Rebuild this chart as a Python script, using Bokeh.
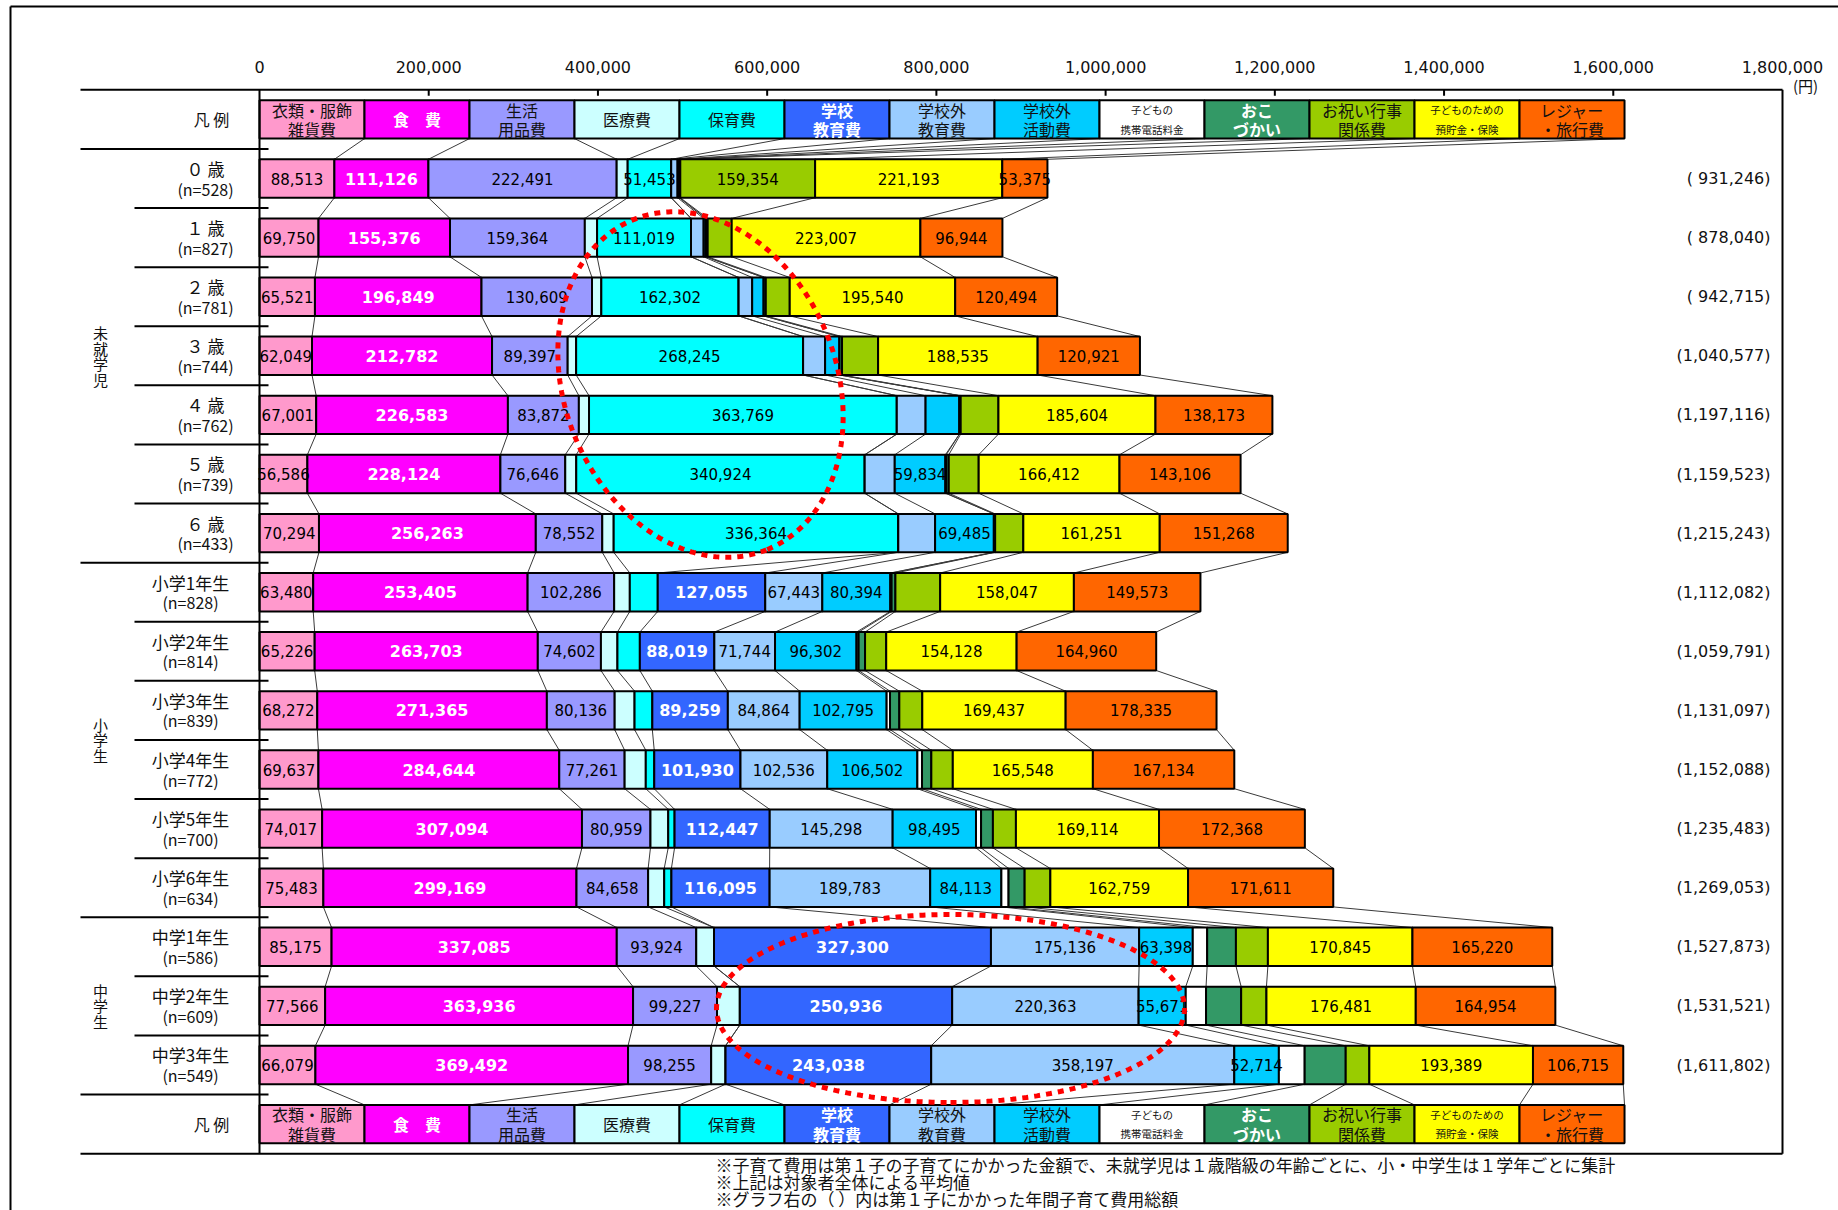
import numpy as np
from bokeh.plotting import figure
from bokeh.models import Range1d, ColumnDataSource
from bokeh.core.properties import value
from bokeh.embed import file_html
from bokeh.resources import INLINE

# ---------------------------------------------------------------- data
# Expense categories, as written in the legend boxes (one or two lines each)
CATEGORY_LINES = [
    ["衣類・服飾", "雑貨費"],
    ["食　費"],
    ["生活", "用品費"],
    ["医療費"],
    ["保育費"],
    ["学校", "教育費"],
    ["学校外", "教育費"],
    ["学校外", "活動費"],
    ["子どもの", "携帯電話料金"],
    ["おこ", "づかい"],
    ["お祝い行事", "関係費"],
    ["子どものための", "預貯金・保険"],
    ["レジャー", "・旅行費"],
]

ROW_NAMES = ["０ 歳", "１ 歳", "２ 歳", "３ 歳", "４ 歳", "５ 歳", "６ 歳",
             "小学1年生", "小学2年生", "小学3年生", "小学4年生", "小学5年生", "小学6年生",
             "中学1年生", "中学2年生", "中学3年生"]
ROW_N = [528, 827, 781, 744, 762, 739, 433, 828, 814, 839, 772, 700, 634, 586, 609, 549]

GROUP_NAMES = ["未就学児", "小学生", "中学生"]
GROUP_ROWS = [(0, 6), (7, 12), (13, 15)]

# Annual cost per category (yen), one value per age row
CLOTHING    = [88513, 69750, 65521, 62049, 67001, 56586, 70294, 63480, 65226, 68272, 69637, 74017, 75483, 85175, 77566, 66079]
FOOD        = [111126, 155376, 196849, 212782, 226583, 228124, 256263, 253405, 263703, 271365, 284644, 307094, 299169, 337085, 363936, 369492]
DAILY_GOODS = [222491, 159364, 130609, 89397, 83872, 76646, 78552, 102286, 74602, 80136, 77261, 80959, 84658, 93924, 99227, 98255]
MEDICAL     = [13000, 14500, 11000, 10000, 12000, 13000, 13500, 18500, 19500, 23500, 25000, 21000, 19000, 21000, 27000, 17000]
CHILDCARE   = [51453, 111019, 162302, 268245, 363769, 340924, 336364, 33000, 26500, 21000, 10000, 7500, 8500, 0, 0, 0]
SCHOOL      = [0, 0, 0, 0, 0, 0, 0, 127055, 88019, 89259, 101930, 112447, 116095, 327300, 250936, 243038]
EXTRA_EDU   = [7500, 14900, 16000, 26000, 34000, 35500, 43500, 67443, 71744, 84864, 102536, 145298, 189783, 175136, 220363, 358197]
EXTRA_ACT   = [2200, 2500, 13600, 17000, 40000, 59834, 69485, 80394, 96302, 102795, 106502, 98495, 84113, 63398, 55671, 52714]
PHONE       = [0, 0, 0, 0, 0, 1000, 0, 1500, 2500, 4000, 5500, 6000, 8500, 17000, 24000, 30500]
ALLOWANCE   = [1041, 2280, 2500, 3000, 1500, 3000, 1500, 4500, 7600, 11000, 11000, 14000, 19000, 34000, 41500, 48500]
CELEBRATION = [159354, 28400, 28300, 42648, 44614, 35391, 33266, 52899, 25007, 27134, 25396, 27191, 30382, 37790, 29887, 27923]
SAVINGS     = [221193, 223007, 195540, 188535, 185604, 166412, 161251, 158047, 154128, 169437, 165548, 169114, 162759, 170845, 176481, 193389]
LEISURE     = [53375, 96944, 120494, 120921, 138173, 143106, 151268, 149573, 164960, 178335, 167134, 172368, 171611, 165220, 164954, 106715]

SERIES = [CLOTHING, FOOD, DAILY_GOODS, MEDICAL, CHILDCARE, SCHOOL, EXTRA_EDU,
          EXTRA_ACT, PHONE, ALLOWANCE, CELEBRATION, SAVINGS, LEISURE]

# which segments carry a value label (one flag per category, per row)
LABELED = ["1110100000111"] + ["1110100000011"] * 4 + ["1110100100011"] * 2 + ["1110011100011"] * 9

TICKS = list(range(0, 1_800_001, 200_000))

FOOTNOTES = [
    "※子育て費用は第１子の子育てにかかった金額で、未就学児は１歳階級の年齢ごとに、小・中学生は１学年ごとに集計",
    "※上記は対象者全体による平均値",
    "※グラフ右の（ ）内は第１子にかかった年間子育て費用総額",
]

# ---------------------------------------------------------------- styles
COLORS = ["#FF99CC", "#FF00FF", "#9999FF", "#CCFFFF", "#00FFFF", "#3366FF", "#99CCFF",
          "#00CCFF", "#FFFFFF", "#339966", "#99CC00", "#FFFF00", "#FF6600"]
WHITE_TEXT = {1, 5, 9}          # categories whose legend text is white and bold
SMALL_LEGEND = {8, 11}          # categories with long legend texts
JP = value("Noto Sans CJK JP")
NUM = value("DejaVu Sans")
INK = "#111111"

# ---------------------------------------------------------------- geometry
W, H = 1838, 1210
X0_PX, X1_PX = 259, 1782            # screen x of 0 and of 1,800,000 yen
AXIS_MAX = 1_800_000
K = (X1_PX - X0_PX) / AXIS_MAX      # pixels per yen
ROW0_PY, ROW_STEP = 178, 59.1       # screen y of the first row, row pitch
BAR_H = 0.65
LEGEND_STEP = 124_100               # width of one legend box (yen units)


def dx(px):
    return (px - X0_PX) / K


def dy(py):
    return (py - ROW0_PY) / ROW_STEP


p = figure(width=W, height=H, x_range=Range1d(dx(0), dx(W)), y_range=Range1d(dy(H), dy(0)),
           output_backend="svg", toolbar_location=None, min_border=0,
           x_axis_location=None, y_axis_location=None, outline_line_color=None,
           background_fill_color="white", border_fill_color="white")
p.xgrid.visible = False
p.ygrid.visible = False

vals = np.array(SERIES, dtype=float)
n_cat, n_rows = vals.shape
right = vals.cumsum(axis=0)
left = right - vals
leg_left = np.arange(n_cat) * LEGEND_STEP
leg_right = leg_left + LEGEND_STEP
LEGEND_ROWS = [-1, n_rows]

# ---- series lines joining the segment ends of consecutive bars
ends = [leg_right] + [right[:, r] for r in range(n_rows)] + [leg_right]
ys = [-1] + list(range(n_rows)) + [n_rows]
sx0, sy0, sx1, sy1 = [], [], [], []
for a in range(len(ys) - 1):
    for k in range(n_cat):
        sx0.append(ends[a][k]); sy0.append(ys[a] + BAR_H / 2)
        sx1.append(ends[a + 1][k]); sy1.append(ys[a + 1] - BAR_H / 2)
p.segment(sx0, sy0, sx1, sy1, line_color="#3a3a3a", line_width=1)

# ---- stacked bars and the two legend strips
by, bl, br, bc = [], [], [], []
for r in range(n_rows):
    for k in range(n_cat):
        by.append(r); bl.append(left[k, r]); br.append(right[k, r]); bc.append(COLORS[k])
for ly in LEGEND_ROWS:
    for k in range(n_cat):
        by.append(ly); bl.append(leg_left[k]); br.append(leg_right[k]); bc.append(COLORS[k])
p.hbar(y="y", left="l", right="r", height=BAR_H, fill_color="c", line_color="black",
       line_width=2, source=ColumnDataSource(dict(y=by, l=bl, r=br, c=bc)))

# ---- value labels on the segments
dark = dict(x=[], y=[], t=[])
light = dict(x=[], y=[], t=[])
for r in range(n_rows):
    for k in range(n_cat):
        if LABELED[r][k] != "1":
            continue
        v = int(vals[k, r])
        d = light if k in (1, 5) else dark
        d["x"].append(left[k, r] + v / 2); d["y"].append(r); d["t"].append(f"{v:,}")
p.text("x", "y", "t", source=ColumnDataSource(dark), text_font=NUM, text_font_size="15px",
       text_color="black", text_align="center", text_baseline="middle")
p.text("x", "y", "t", source=ColumnDataSource(light), text_font=NUM, text_font_size="16px",
       text_font_style="bold", text_color="white", text_align="center", text_baseline="middle")

# ---- legend box texts
for ly in LEGEND_ROWS:
    for k, lines in enumerate(CATEGORY_LINES):
        cx = leg_left[k] + LEGEND_STEP / 2
        offs = [0.0] if len(lines) == 1 else [-0.165, 0.165]
        p.text([cx] * len(lines), [ly + o for o in offs], lines, text_font=JP,
               text_font_size="10.5px" if k in SMALL_LEGEND else "16px",
               text_font_style="bold" if k in WHITE_TEXT else "normal",
               text_color="white" if k in WHITE_TEXT else INK,
               text_align="center", text_baseline="middle")
    p.text([dx(211)], [ly], ["凡 例"], text_font=JP, text_font_size="16px",
           text_color=INK, text_align="center", text_baseline="middle")

# ---- row labels and group labels
for r, (name, n) in enumerate(zip(ROW_NAMES, ROW_N)):
    cx = dx(205) if r <= GROUP_ROWS[0][1] else dx(190)
    p.text([cx], [r - 0.17], [name], text_font=JP, text_font_size="17px",
           text_color=INK, text_align="center", text_baseline="middle")
    p.text([cx], [r + 0.17], [f"(n={n})"], text_font=JP, text_font_size="16px",
           text_color=INK, text_align="center", text_baseline="middle")

for name, (r0, r1) in zip(GROUP_NAMES, GROUP_ROWS):
    mid = (r0 + r1) / 2
    step = 15.5 / ROW_STEP
    cy = [mid + (i - (len(name) - 1) / 2) * step for i in range(len(name))]
    p.text([dx(100)] * len(name), cy, list(name), text_font=JP, text_font_size="15px",
           text_color=INK, text_align="center", text_baseline="middle")

# ---- totals at the right
totals = vals.sum(axis=0)
tot_txt = [("(" if t >= 1_000_000 else "( ") + f"{int(t):,})" for t in totals]
p.text([dx(1770)] * n_rows, list(range(n_rows)), tot_txt, text_font=NUM, text_font_size="16px",
       text_color=INK, text_align="right", text_baseline="middle")

# ---- frame, separators and top scale
top, bottom = -1.5, n_rows + 0.5
p.segment([dx(80), dx(80), 0, AXIS_MAX],
          [top, bottom, top, top],
          [AXIS_MAX, AXIS_MAX, 0, AXIS_MAX],
          [top, bottom, bottom, bottom], line_color="black", line_width=2)
long_y = [-0.5] + [r1 + 0.5 for (_, r1) in GROUP_ROWS]
short_y = [r + 0.5 for (r0, r1) in GROUP_ROWS for r in range(r0, r1)]
p.segment([dx(80)] * len(long_y), long_y, [dx(268)] * len(long_y), long_y,
          line_color="black", line_width=2)
p.segment([dx(134)] * len(short_y), short_y, [dx(268)] * len(short_y), short_y,
          line_color="black", line_width=2)
inner = TICKS[1:-1]
p.segment(inner, [top] * len(inner), inner, [top + 6 / ROW_STEP] * len(inner),
          line_color="black", line_width=2)
p.text(TICKS, [dy(66)] * len(TICKS), [f"{t:,}" for t in TICKS], text_font=NUM,
       text_font_size="16px", text_color=INK, text_align="center", text_baseline="middle")
p.text([dx(1805)], [dy(85)], ["(円)"], text_font=JP, text_font_size="15px",
       text_color=INK, text_align="center", text_baseline="middle")

# page border (top and left)
p.segment([dx(10), dx(10)], [dy(6), dy(6)], [dx(W), dx(10)], [dy(6), dy(H)],
          line_color="black", line_width=2)

# ---- red dotted rings highlighting childcare and school spending


def ring(cx, cy, a, b, tilt_deg, n=400):
    t = np.linspace(0, 2 * np.pi, n)
    th = np.radians(tilt_deg)
    ux, uy = np.sin(th), np.cos(th)
    vx, vy = np.cos(th), -np.sin(th)
    px = cx + a * np.cos(t) * ux + b * np.sin(t) * vx
    py = cy + a * np.cos(t) * uy + b * np.sin(t) * vy
    return dx(px), dy(py)


for cx, cy, a, b, tilt in [(700, 384, 178, 136, 22), (950, 1008, 94, 234, 0)]:
    xs, ys_ = ring(cx, cy, a, b, tilt)
    p.line(xs, ys_, line_color="#FF0000", line_width=5, line_dash="6 6")

# ---- footnotes
for i, note in enumerate(FOOTNOTES):
    p.text([dx(715)], [dy(1164 + 17 * i)], [note], text_font=JP, text_font_size="17px",
           text_color=INK, text_align="left", text_baseline="middle")

open("out.html", "w").write(file_html(p, INLINE, title="子育て費用"))
